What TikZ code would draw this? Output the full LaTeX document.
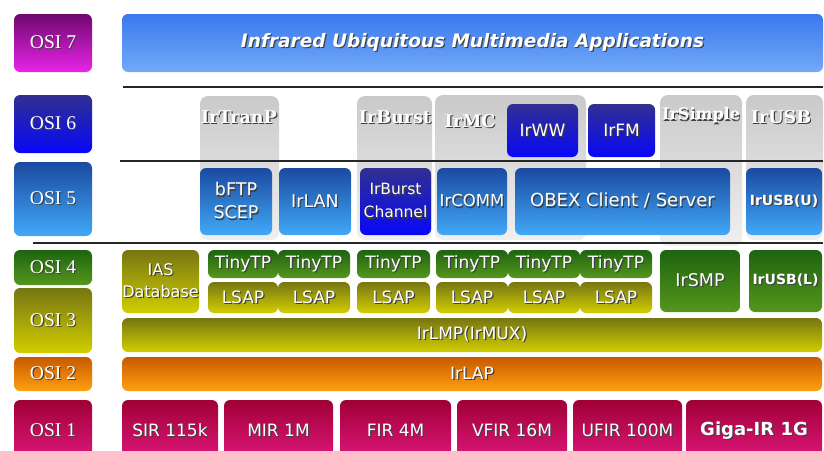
\documentclass[tikz,border=0pt]{standalone}
\usepackage{fontspec}
\setmainfont{DejaVu Sans}
\newfontfamily\osif{Liberation Serif}
\newfontfamily\colf{DejaVu Serif}
\newcommand\shtxt[1]{\leavevmode\rlap{\hspace{1.2pt}\raisebox{-1.2pt}{\textcolor{black!75}{#1}}}#1}
\newcommand\fsz[1]{\fontsize{#1}{#1}\selectfont}
\newcommand\bx[7]{\node[#6, minimum width={(#4-#2)*1pt}, minimum height={(#5-#3)*1pt}] (#1) at ({(#2+#4)/2},{(#3+#5)/2}) {#7};}
\definecolor{mgA}{HTML}{70086E}\definecolor{mgB}{HTML}{E824E8}
\definecolor{apA}{HTML}{3A78EE}\definecolor{apB}{HTML}{72AAF6}
\definecolor{dbA}{HTML}{303090}\definecolor{dbB}{HTML}{0808F8}
\definecolor{lbA}{HTML}{1A4AA0}\definecolor{lbB}{HTML}{42A8F8}
\definecolor{grA}{HTML}{1E6410}\definecolor{grB}{HTML}{55961C}
\definecolor{olA}{HTML}{767612}\definecolor{olB}{HTML}{D2CE00}
\definecolor{orA}{HTML}{C85A00}\definecolor{orB}{HTML}{FFA010}
\definecolor{crA}{HTML}{A00036}\definecolor{crB}{HTML}{E0187E}
\tikzset{
  box/.style={rounded corners=6pt, inner sep=0pt, outer sep=0pt, text=white, align=center, font=\fsz{17}},
  osi/.style={box, font=\osif\fsz{19.5}},
  magenta/.style={top color=mgA, bottom color=mgB},
  appbar/.style={top color=apA, bottom color=apB},
  darkblue/.style={top color=dbA, bottom color=dbB},
  lightblue/.style={top color=lbA, bottom color=lbB},
  greenish/.style={top color=grA, bottom color=grB},
  olive/.style={top color=olA, bottom color=olB},
  orangish/.style={top color=orA, bottom color=orB},
  crimson/.style={top color=crA, bottom color=crB},
  column/.style={rounded corners=8pt, inner sep=0pt, outer sep=0pt, top color=gray!42, bottom color=gray!12},
  collabel/.style={text=white, inner sep=0pt, font=\colf\bfseries\fsz{17.5}},
  sepline/.style={line width=2pt, black!85},
}
\begin{document}
\begin{tikzpicture}[x=1pt,y=-1pt]
\useasboundingbox (0,0) rectangle (824,450);
\clip (0,0) rectangle (824,450);
% gray columns
\bx{cTranP}{200}{96}{279}{240}{column}{}
\bx{cBurst}{357}{96}{432}{240}{column}{}
\bx{cMC}{435}{95}{586}{240}{column}{}
\bx{cSimple}{660}{95}{742}{246}{column}{}
\bx{cUSB}{746}{95}{823}{240}{column}{}
\node[collabel] (tTranP) at (239,118) {\shtxt{IrTranP}};
\node[collabel] (tBurst) at (395,118) {\shtxt{IrBurst}};
\node[collabel] (tMC) at (470,122) {\shtxt{IrMC}};
\node[collabel, font=\colf\bfseries\fsz{16}] (tSimple) at (701,116) {\shtxt{IrSimple}};
\node[collabel] (tUSB) at (781,118) {\shtxt{IrUSB}};
% separator lines
\coordinate (l1a) at (123,87); \coordinate (l1b) at (823,87);
\coordinate (l2a) at (120,161); \coordinate (l2b) at (823,161);
\coordinate (l3a) at (33,243); \coordinate (l3b) at (823,243);
\draw[sepline] (l1a) -- (l1b);
\draw[sepline] (l2a) -- (l2b);
\draw[sepline] (l3a) -- (l3b);
% OSI labels
\bx{osi7}{14}{14}{92}{72}{osi,magenta}{\shtxt{OSI 7}}
\bx{osi6}{14}{95}{92}{153}{osi,darkblue}{\shtxt{OSI 6}}
\bx{osi5}{14}{162}{92}{236}{osi,lightblue}{\shtxt{OSI 5}}
\bx{osi4}{14}{250}{92}{285}{osi,greenish}{\shtxt{OSI 4}}
\bx{osi3}{14}{288}{92}{353}{osi,olive}{\shtxt{OSI 3}}
\bx{osi2}{14}{357}{92}{391}{osi,orangish}{\shtxt{OSI 2}}
\bx{osi1}{14}{400}{92}{462}{osi,crimson}{\shtxt{OSI 1}}
% layer 7
\bx{app}{122}{14}{823}{72}{box,appbar,font=\bfseries\itshape\fsz{18.5}}{\shtxt{Infrared Ubiquitous Multimedia Applications}}
% layer 6
\bx{ww}{507}{104}{578}{157}{box,darkblue}{\shtxt{IrWW}}
\bx{fm}{588}{104}{655}{157}{box,darkblue}{\shtxt{IrFM}}
% layer 5
\bx{bftp}{200}{168}{272}{235}{box,lightblue,font=\fontsize{17.5}{23}\selectfont}{\shtxt{bFTP}\\\shtxt{SCEP}}
\bx{lan}{279}{168}{351}{235}{box,lightblue,font=\fsz{17.5}}{\shtxt{IrLAN}}
\bx{burstch}{360}{168}{431}{235}{box,darkblue,font=\fontsize{15.5}{23}\selectfont}{\shtxt{IrBurst}\\\shtxt{Channel}}
\bx{comm}{437}{168}{507}{235}{box,lightblue,font=\fsz{16.5}}{\shtxt{IrCOMM}}
\bx{obex}{515}{168}{730}{235}{box,lightblue,font=\fsz{18}}{\shtxt{OBEX Client / Server}}
\bx{usbu}{746}{168}{822}{235}{box,lightblue,font=\bfseries\fsz{14}}{\shtxt{IrUSB(U)}}
% layer 4
\bx{ias}{122}{250}{199}{313}{box,olive,font=\fontsize{16}{22}\selectfont}{\shtxt{IAS}\\\shtxt{Database}}
\bx{tp1}{208}{250}{278}{278}{box,greenish}{\shtxt{TinyTP}}
\bx{tp2}{278}{250}{350}{278}{box,greenish}{\shtxt{TinyTP}}
\bx{tp3}{357}{250}{430}{278}{box,greenish}{\shtxt{TinyTP}}
\bx{tp4}{436}{250}{508}{278}{box,greenish}{\shtxt{TinyTP}}
\bx{tp5}{508}{250}{580}{278}{box,greenish}{\shtxt{TinyTP}}
\bx{tp6}{580}{250}{652}{278}{box,greenish}{\shtxt{TinyTP}}
\bx{ls1}{208}{282}{278}{313}{box,olive}{\shtxt{LSAP}}
\bx{ls2}{278}{282}{350}{313}{box,olive}{\shtxt{LSAP}}
\bx{ls3}{357}{282}{430}{313}{box,olive}{\shtxt{LSAP}}
\bx{ls4}{436}{282}{508}{313}{box,olive}{\shtxt{LSAP}}
\bx{ls5}{508}{282}{580}{313}{box,olive}{\shtxt{LSAP}}
\bx{ls6}{580}{282}{652}{313}{box,olive}{\shtxt{LSAP}}
\bx{smp}{660}{250}{740}{312}{box,greenish,font=\fsz{17.5}}{\shtxt{IrSMP}}
\bx{usbl}{749}{250}{822}{312}{box,greenish,font=\bfseries\fsz{14}}{\shtxt{IrUSB(L)}}
% layer 3, 2
\bx{lmp}{122}{318}{822}{352}{box,olive}{\shtxt{IrLMP(IrMUX)}}
\bx{lap}{122}{357}{822}{391}{box,orangish}{\shtxt{IrLAP}}
% layer 1
\bx{sir}{122}{400}{218}{462}{box,crimson}{\shtxt{SIR 115k}}
\bx{mir}{224}{400}{333}{462}{box,crimson}{\shtxt{MIR 1M}}
\bx{fir}{340}{400}{451}{462}{box,crimson}{\shtxt{FIR 4M}}
\bx{vfir}{457}{400}{567}{462}{box,crimson}{\shtxt{VFIR 16M}}
\bx{ufir}{573}{400}{682}{462}{box,crimson}{\shtxt{UFIR 100M}}
\bx{giga}{686}{400}{822}{462}{box,crimson,font=\bfseries\fsz{18}}{\shtxt{Giga-IR 1G}}
\end{tikzpicture}
\end{document}
